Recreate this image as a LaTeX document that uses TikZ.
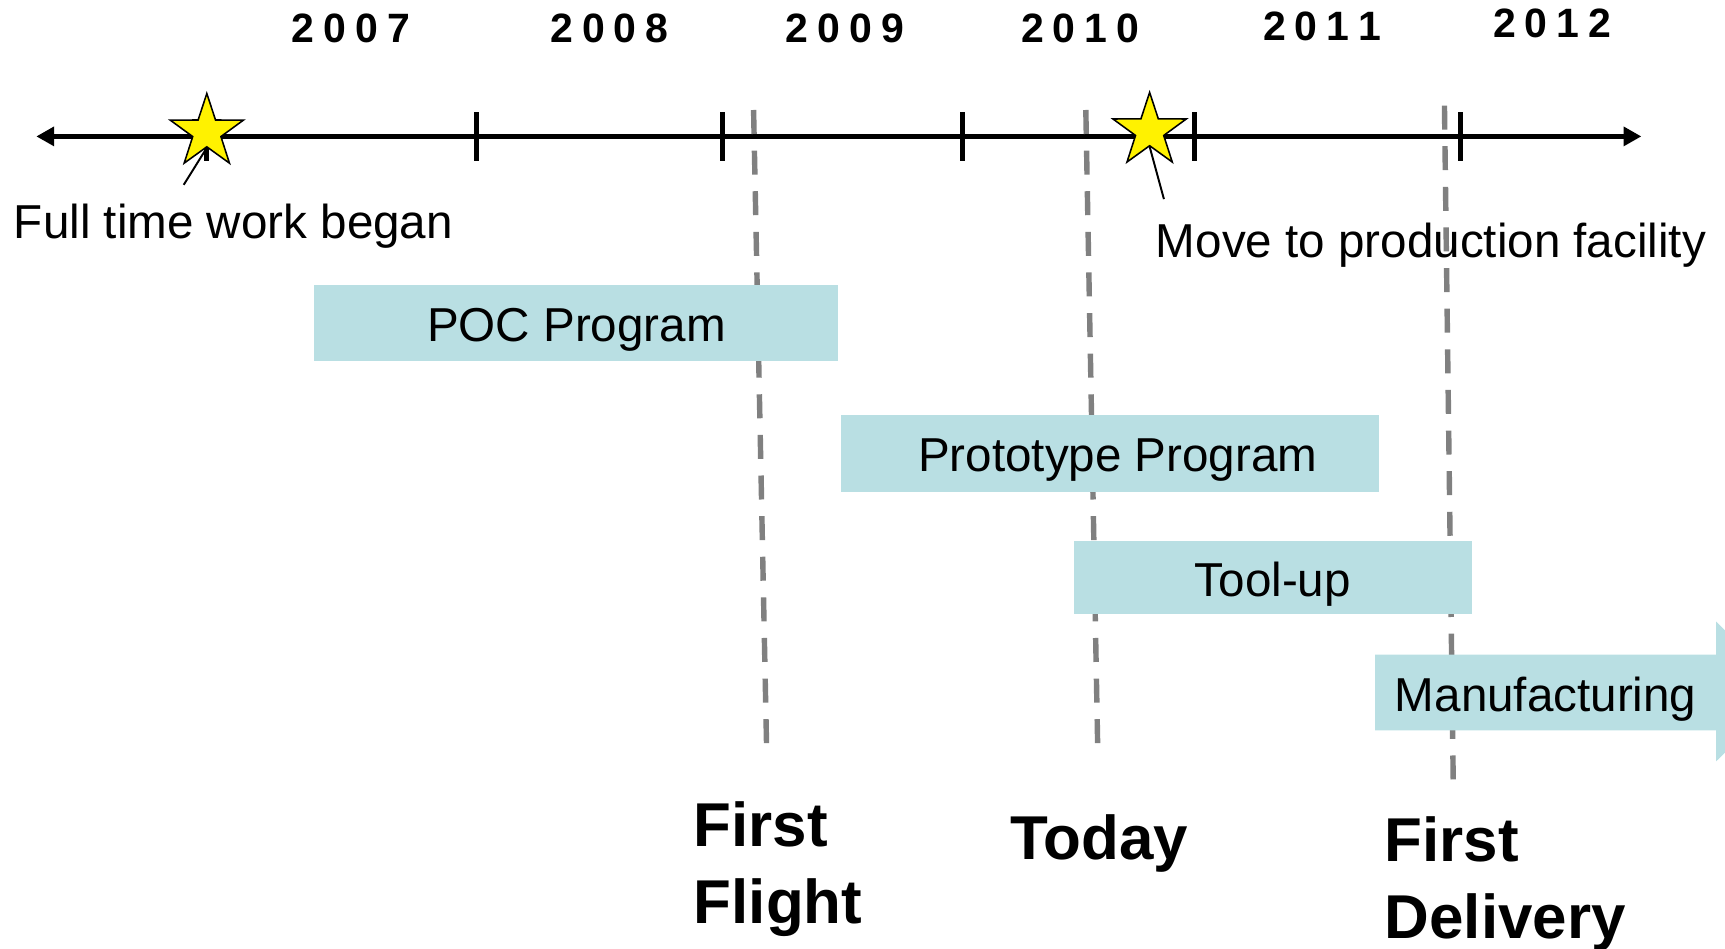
\documentclass[tikz,border=0pt]{standalone}
\usepackage{fontspec}
\setmainfont{Liberation Sans}
\usepackage{xcolor}
\usepackage{tikz}
\usetikzlibrary{shapes,arrows,arrows.meta}
\definecolor{barfill}{RGB}{185,223,227}
\definecolor{mileline}{RGB}{128,128,128}
\newcommand{\yr}[4]{#1\kern2.35pt#2\kern2.35pt#3\kern2.35pt#4}

\begin{document}
\begin{tikzpicture}[x=0.01cm, y=-0.01cm,
  bar/.style={fill=barfill, inner sep=0, font=\fontsize{12.3}{14}\selectfont, text height=10.2pt, text depth=0.6pt},
  yearlbl/.style={anchor=base, inner sep=0, font=\fontsize{10.6}{12}\selectfont\bfseries},
  note/.style={anchor=base west, inner sep=0, font=\fontsize{12.3}{14}\selectfont},
  milestone/.style={anchor=north west, inner sep=0, align=left, font=\fontsize{16}{19.8}\selectfont\bfseries},
  event/.style={star, star points=5, star point ratio=2.6, draw=black, line width=0.4pt, fill=yellow, minimum size=0.7cm, inner sep=0},
  tick/.style={line width=1.3pt},
  dashline/.style={draw=mileline, line width=1.4pt, dash pattern=on 6.2pt off 4.3pt}]
\clip (0,0) rectangle (1568,862);
%years
\node[yearlbl] (y7) at (319,39) {\yr2007};
\node[yearlbl] (y8) at (554,39) {\yr2008};
\node[yearlbl] (y9) at (768,39) {\yr2009};
\node[yearlbl] (y10) at (982,39) {\yr2010};
\node[yearlbl] (y11) at (1202,37) {\yr2011};
\node[yearlbl] (y12) at (1411,34) {\yr2012};
%axis
\coordinate (tl) at (33,124);
\coordinate (tr) at (1492,124);
\draw [line width=1.3pt, {Triangle[length=4.6pt,width=4.8pt]}-{Triangle[length=4.6pt,width=4.8pt]}] (tl) -- (tr);
\foreach \x in {188,433,657,875,1086,1328}
  \draw [tick] (\x,102) -- (\x,146);
%milestone lines
\coordinate (ff1) at (685,100);
\coordinate (ff2) at (697,688);
\coordinate (td1) at (987,100);
\coordinate (td2) at (998,690);
\coordinate (fd1) at (1313,96);
\coordinate (fd2) at (1321,712);
\draw [dashline] (ff1) -- (ff2);
\draw [dashline] (td1) -- (td2);
\draw [dashline] (fd1) -- (fd2);
%events
\node[event] (s1) at (188,120) {};
\node[event] (s2) at (1045,119) {};
\node[note] (began) at (12,217) {Full time work began};
\node[note] (move) at (1050,234) {Move to production facility};
\coordinate (p1) at (167,168);
\coordinate (p2) at (1058,181);
\draw [line width=0.5pt] (s1.inner point 3) -- (p1);
\draw [line width=0.5pt] (s2.inner point 3) -- (p2);
%bars
\node[bar, minimum width=4.76cm, minimum height=0.69cm] (poc) at (524,293.5) {POC Program};
\node[bar, minimum width=4.88cm, minimum height=0.70cm] (proto) at (1009,412) {\hspace{4pt}Prototype Program};
\node[bar, minimum width=3.62cm, minimum height=0.66cm] (tool) at (1157,525) {Tool-up};
\fill [barfill] (1250,595) -- (1560,595) -- (1560,565) -- (1624,629.5) -- (1560,692) -- (1560,664) -- (1250,664) -- cycle;
\node[bar, fill=none] (mfg) at (1405,629.5) {Manufacturing};
%labels
\node[milestone] (flight) at (630,728) {First\\Flight};
\node[milestone] (today) at (918,740) {Today};
\node[milestone] (deliv) at (1258,742) {First\\Delivery};
\end{tikzpicture}
\end{document}
